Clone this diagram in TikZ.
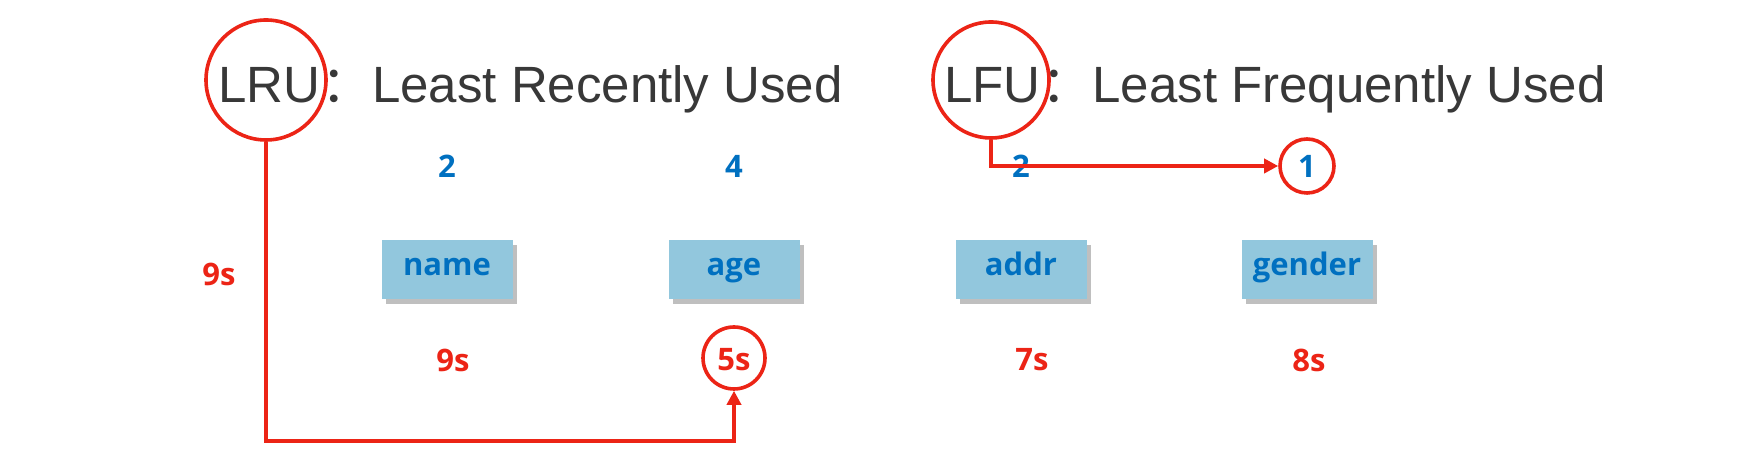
\documentclass[tikz,border=0pt]{standalone}
\usepackage{fontspec}
\setmainfont{Liberation Sans}
\newfontfamily\cjk{Noto Sans CJK SC}
\newfontfamily\keyfont{Open Sans}
\usetikzlibrary{arrows.meta,shadows}
\definecolor{slidegray}{RGB}{56,56,56}
\definecolor{keyblue}{RGB}{0,112,192}
\definecolor{markred}{RGB}{236,36,22}
\definecolor{boxblue}{RGB}{146,199,221}

\begin{document}
\begin{tikzpicture}[x=0.5pt, y=-0.5pt, every node/.style={inner sep=0pt},
    title/.style={font=\fontsize{25.5}{30}\selectfont, text=slidegray, anchor=base west},
    count/.style={font=\keyfont\bfseries\fontsize{15.5}{18}\selectfont, text=keyblue},
    stamp/.style={font=\keyfont\bfseries\fontsize{15.5}{18}\selectfont, text=markred},
    keybox/.style={fill=boxblue, minimum width=65.5pt, minimum height=29.5pt,
      text height=1ex, text depth=0pt, font=\keyfont\bfseries\fontsize{15.5}{18}\selectfont,
      text=keyblue, drop shadow={shadow xshift=2pt, shadow yshift=-2.5pt, fill=black, opacity=0.25}},
    ring/.style={circle, draw=markred, line width=1.8pt},
    link/.style={draw=markred, line width=2.1pt, -{Triangle[length=7pt,width=7pt]}}]
  \useasboundingbox[fill=white] (0,0) rectangle (1752,474);
  % headings
  \node[title] (lru) at (218,103) {LRU};
  \node[title] (lrutxt) at (lru.base east) {{\cjk ：}Least Recently Used};
  \node[title] (lfu) at (944,103) {LFU};
  \node[title] (lfutxt) at (lfu.base east) {{\cjk ：}Least Frequently Used};
  \node[ring, minimum size=60pt] (lruring) at (266,80) {};
  \node[ring, minimum size=58pt] (lfuring) at (991,80) {};
  % keys with hit counts and idle times
  \foreach \x/\key/\hits/\tx/\idle in {447/name/2/453/9s, 734/age/4/734/5s, 1021/addr/2/1032/7s, 1307/gender/1/1309/8s}
    {\node[count] (hits-\key) at (\x,166) {\hits};
     \node[keybox] (box-\key) at (\x,270) {\key};
     \node[stamp] (idle-\key) at (\tx,360) {\idle};}
  \node[stamp] (lruidle) at (219,274) {9s};
  \node[ring, minimum size=27pt] (ring-hits) at (hits-gender) {};
  \node[ring, minimum size=31pt] (ring-idle) at (734,358) {};
  % pointers
  \coordinate (floor) at (0,441);
  \draw[link] (lruring.south) |- (ring-idle.south |- floor) -- (ring-idle.south);
  \draw[link] (lfuring.south) |- (ring-hits.west);
\end{tikzpicture}
\end{document}
